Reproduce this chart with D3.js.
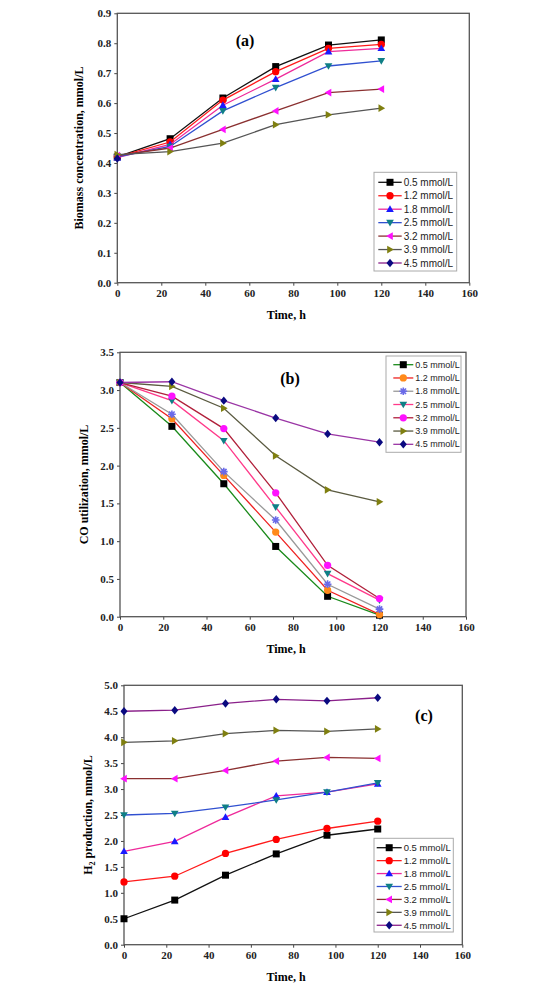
<!DOCTYPE html>
<html>
<head>
<meta charset="utf-8">
<script src="https://cdn.jsdelivr.net/npm/d3@7"></script>
<style>
  body { margin: 0; background: #fff; }
  svg { display: block; }
  .tick text { font-family: "Liberation Serif", serif; font-weight: bold; font-size: 11px; fill: #222; }
  .domain { display: none; }
  .tick line { stroke: #444; }
</style>
</head>
<body>
<script>
// time points (h)
const times = [0, 24, 48, 72, 96, 120];
const seriesLabels = ['0.5 mmol/L', '1.2 mmol/L', '1.8 mmol/L', '2.5 mmol/L', '3.2 mmol/L', '3.9 mmol/L', '4.5 mmol/L'];

// (a) biomass concentration, mmol/L
const biomassValues = [
    [0.420, 0.481, 0.617, 0.722, 0.794, 0.811],
    [0.420, 0.470, 0.610, 0.705, 0.783, 0.796],
    [0.418, 0.462, 0.593, 0.680, 0.772, 0.783],
    [0.420, 0.455, 0.574, 0.652, 0.724, 0.741],
    [0.425, 0.450, 0.512, 0.574, 0.635, 0.647],
    [0.428, 0.438, 0.466, 0.528, 0.561, 0.583],
    [0.415, null, null, null, null, null]
];

// (b) CO utilization, mmol/L
const coValues = [
    [3.10, 2.52, 1.76, 0.93, 0.27, 0.02],
    [3.10, 2.62, 1.87, 1.12, 0.35, 0.03],
    [3.10, 2.68, 1.92, 1.28, 0.43, 0.10],
    [3.10, 2.86, 2.33, 1.45, 0.57, 0.22],
    [3.10, 2.92, 2.49, 1.64, 0.68, 0.24],
    [3.10, 3.05, 2.76, 2.13, 1.68, 1.52],
    [3.10, 3.11, 2.86, 2.63, 2.42, 2.31]
];

// (c) H2 production, mmol/L
const h2Values = [
    [0.50, 0.86, 1.34, 1.75, 2.11, 2.23],
    [1.21, 1.32, 1.76, 2.03, 2.24, 2.38],
    [1.80, 1.99, 2.46, 2.87, 2.94, 3.10],
    [2.50, 2.53, 2.65, 2.79, 2.94, 3.12],
    [3.20, 3.20, 3.36, 3.54, 3.61, 3.59],
    [3.90, 3.93, 4.07, 4.13, 4.11, 4.16],
    [4.50, 4.52, 4.65, 4.73, 4.70, 4.76]
];

const xTicks = [0, 20, 40, 60, 80, 100, 120, 140, 160];

// styles: [line colour, marker colour, marker shape]
const styleAC = [
    ['#111111', '#000000', 'square'],
    ['#ff1a1a', '#ff0000', 'circle'],
    ['#ee2a9a', '#1a1aff', 'up'],
    ['#3050d0', '#0f7f86', 'down'],
    ['#8a3030', '#ff10ff', 'left'],
    ['#555555', '#7f7f10', 'right'],
    ['#8a208a', '#0a0a80', 'diamond']
];
const styleB = [
    ['#1a8a1a', '#000000', 'square'],
    ['#ee2222', '#ff8a1a', 'circle'],
    ['#999999', '#6a6ae8', 'star'],
    ['#ff3a8a', '#0f7f86', 'down'],
    ['#b0203a', '#ff10ff', 'circle'],
    ['#5a5a40', '#7f7f10', 'right'],
    ['#9a35a5', '#0a0a80', 'diamond']
];

const svg = d3.select('body').append('svg')
    .attr('width', 555)
    .attr('height', 1005);

function markerPath(shape, s) {
    const h = s / 2;
    if (shape === 'square') return `M${-h},${-h}H${h}V${h}H${-h}Z`;
    if (shape === 'circle') return d3.symbol(d3.symbolCircle, s * s * 0.85)();
    if (shape === 'up') return `M0,${-h * 1.1}L${h * 1.1},${h * 0.8}L${-h * 1.1},${h * 0.8}Z`;
    if (shape === 'down') return `M0,${h * 1.1}L${h * 1.1},${-h * 0.8}L${-h * 1.1},${-h * 0.8}Z`;
    if (shape === 'left') return `M${-h * 1.1},0L${h * 0.8},${-h * 1.1}L${h * 0.8},${h * 1.1}Z`;
    if (shape === 'right') return `M${h * 1.1},0L${-h * 0.8},${-h * 1.1}L${-h * 0.8},${h * 1.1}Z`;
    if (shape === 'diamond') return `M0,${-h * 1.2}L${h},0L0,${h * 1.2}L${-h},0Z`;
    if (shape === 'star') {
        let p = '';
        for (let i = 0; i < 4; i++) {
            const a = i * Math.PI / 4;
            const dx = Math.cos(a) * h * 1.1, dy = Math.sin(a) * h * 1.1;
            p += `M${-dx},${-dy}L${dx},${dy}`;
        }
        return p;
    }
}

function drawMarker(g, shape, color, x, y, size) {
    const m = g.append('path')
        .attr('d', markerPath(shape, size))
        .attr('transform', `translate(${x},${y})`);
    if (shape === 'star') {
        m.attr('fill', 'none').attr('stroke', color).attr('stroke-width', 1.6);
    } else {
        m.attr('fill', color);
    }
}

function drawPanel(cfg) {
    const g = svg.append('g');
    const x = d3.scaleLinear().domain([0, 160]).range([cfg.left, cfg.right]);
    const y = d3.scaleLinear().domain([0, cfg.yMax]).range([cfg.bottom, cfg.top]);

    g.append('g')
        .attr('transform', `translate(0,${cfg.bottom})`)
        .call(d3.axisBottom(x).tickValues(xTicks).tickSize(3).tickPadding(4).tickFormat(d3.format('d')));
    g.append('g')
        .attr('transform', `translate(${cfg.left},0)`)
        .call(d3.axisLeft(y).tickValues(cfg.yTicks).tickSize(3).tickPadding(3).tickFormat(d3.format('.1f')));

    g.append('rect')
        .attr('x', cfg.left).attr('y', cfg.top)
        .attr('width', cfg.right - cfg.left).attr('height', cfg.bottom - cfg.top)
        .attr('fill', 'none').attr('stroke', '#555').attr('stroke-width', 1.3);

    const line = d3.line()
        .defined(d => d != null)
        .x((d, i) => x(times[i]))
        .y(d => y(d));

    cfg.values.forEach((vals, k) => {
        const st = cfg.styles[k];
        g.append('path')
            .datum(vals)
            .attr('d', line)
            .attr('fill', 'none')
            .attr('stroke', st[0])
            .attr('stroke-width', 1.3);
        vals.forEach((v, i) => {
            if (v == null) return;
            drawMarker(g, st[2], st[1], x(times[i]), y(v), cfg.markerSize);
        });
    });

    // legend
    const lg = g.append('g');
    const L = cfg.legend;
    lg.append('rect')
        .attr('x', L.x).attr('y', L.y).attr('width', L.w).attr('height', L.h)
        .attr('fill', '#fff').attr('stroke', '#aaa').attr('stroke-width', 1);
    seriesLabels.forEach((lab, k) => {
        const st = cfg.styles[k];
        const yy = L.y0 + k * L.step;
        lg.append('line')
            .attr('x1', L.lx0).attr('x2', L.lx1).attr('y1', yy).attr('y2', yy)
            .attr('stroke', st[0]).attr('stroke-width', 1.3);
        drawMarker(lg, st[2], st[1], (L.lx0 + L.lx1) / 2, yy, cfg.markerSize);
        lg.append('text')
            .attr('x', L.lx1 + 2).attr('y', yy)
            .attr('dy', '0.35em')
            .style('font-family', '"Liberation Sans", Arial, sans-serif')
            .style('font-size', L.font + 'px')
            .attr('fill', '#222')
            .text(lab);
    });

    // panel label
    g.append('text')
        .attr('x', cfg.tag[0]).attr('y', cfg.tag[1])
        .attr('text-anchor', 'middle').attr('dy', '0.35em')
        .style('font-family', '"Liberation Serif", serif')
        .style('font-weight', 'bold').style('font-size', '16px')
        .text(cfg.tagText);

    // axis titles
    g.append('text')
        .attr('x', (cfg.left + cfg.right) / 2 - 7).attr('y', cfg.bottom + 36)
        .attr('text-anchor', 'middle')
        .style('font-family', '"Liberation Serif", serif')
        .style('font-weight', 'bold').style('font-size', '12px')
        .text('Time, h');

    const yt = g.append('text')
        .attr('transform', `translate(${cfg.yTitleX},${(cfg.top + cfg.bottom) / 2}) rotate(-90)`)
        .attr('text-anchor', 'middle')
        .style('font-family', '"Liberation Serif", serif')
        .style('font-weight', 'bold').style('font-size', '12px');
    if (cfg.sub) {
        yt.append('tspan').text('H');
        yt.append('tspan').attr('dy', 3).style('font-size', '8px').text('2');
        yt.append('tspan').attr('dy', -3).text(' production, mmol/L');
    } else {
        yt.text(cfg.yTitle);
    }
}

drawPanel({
    left: 117.3, right: 469.3, top: 13.3, bottom: 282.7,
    yMax: 0.9, yTicks: d3.range(0, 10).map(d => d / 10),
    values: biomassValues, styles: styleAC, markerSize: 7,
    legend: { x: 374, y: 172.3, w: 82.7, h: 98.7, y0: 182.3, step: 13.45, lx0: 378.3, lx1: 401.7, font: 10 },
    tag: [245, 40], tagText: '(a)',
    yTitle: 'Biomass concentration, mmol/L', yTitleX: 83
});

drawPanel({
    left: 120, right: 466, top: 352.3, bottom: 616.7,
    yMax: 3.5, yTicks: d3.range(0, 8).map(d => d / 2),
    values: coValues, styles: styleB, markerSize: 7,
    legend: { x: 386, y: 356, w: 75, h: 96.3, y0: 364.7, step: 13.27, lx0: 393.3, lx1: 413.3, font: 9 },
    tag: [290, 378], tagText: '(b)',
    yTitle: 'CO utilization, mmol/L', yTitleX: 88
});

drawPanel({
    left: 124, right: 462.3, top: 685.3, bottom: 944.7,
    yMax: 5, yTicks: d3.range(0, 11).map(d => d / 2),
    values: h2Values, styles: styleAC, markerSize: 7,
    legend: { x: 374, y: 838.3, w: 79.3, h: 93.7, y0: 847.7, step: 12.93, lx0: 376.7, lx1: 401.7, font: 9.5 },
    tag: [424, 715], tagText: '(c)',
    sub: true, yTitleX: 92
});
</script>
</body>
</html>
